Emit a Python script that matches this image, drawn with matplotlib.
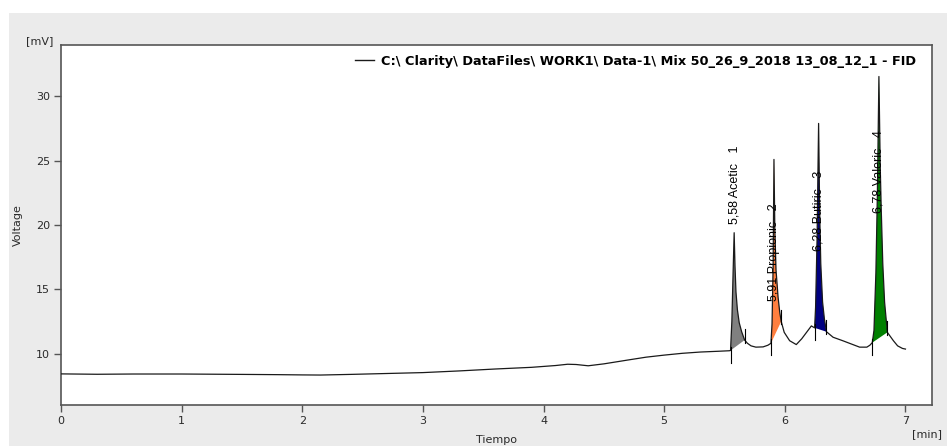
import numpy as np
import matplotlib
matplotlib.use("Agg")
import matplotlib.pyplot as plt
from matplotlib.patches import Rectangle
from matplotlib.lines import Line2D

# ---- chromatogram trace (time in min, signal in mV) ----
baseline_time = [0.0, 0.3, 0.6, 1.0, 1.5, 1.8, 2.0, 2.15, 2.4, 2.7, 3.0, 3.3, 3.6, 3.9,
                 4.1, 4.2, 4.27, 4.37, 4.5, 4.7, 4.85, 5.0, 5.15, 5.3, 5.45, 5.54]
baseline_mv = [8.42, 8.39, 8.41, 8.41, 8.38, 8.36, 8.34, 8.33, 8.38, 8.45, 8.52, 8.65, 8.8, 8.93,
               9.07, 9.17, 9.15, 9.05, 9.2, 9.5, 9.72, 9.88, 10.02, 10.12, 10.18, 10.22]

acetic_time = [5.55, 5.561, 5.571, 5.58, 5.587, 5.595, 5.607, 5.622, 5.642, 5.667,
               5.69, 5.72, 5.76, 5.82, 5.86]
acetic_mv = [10.24, 12.5, 16.2, 19.4, 16.8, 14.8, 13.4, 12.4, 11.7, 11.05,
             10.8, 10.6, 10.5, 10.52, 10.65]

propionic_time = [5.885, 5.894, 5.903, 5.91, 5.917, 5.927, 5.944, 5.958, 5.97,
                  5.995, 6.04, 6.095, 6.14, 6.18, 6.22]
propionic_mv = [10.8, 12.3, 16.8, 25.1, 19.8, 16.5, 14.4, 13.2, 12.5,
                11.65, 11.0, 10.7, 11.15, 11.65, 12.15]

butyric_time = [6.247, 6.255, 6.267, 6.28, 6.289, 6.298, 6.313, 6.328, 6.345,
                6.40, 6.48, 6.55, 6.62, 6.68, 6.705]
butyric_mv = [12.0, 13.6, 18.8, 27.9, 21.0, 17.0, 14.0, 12.7, 11.7,
              11.27, 11.0, 10.75, 10.5, 10.5, 10.65]

valeric_time = [6.725, 6.739, 6.755, 6.767, 6.78, 6.791, 6.799, 6.812, 6.827, 6.85,
                6.9, 6.935, 6.975, 7.0]
valeric_mv = [10.85, 11.8, 16.3, 22.3, 31.55, 24.5, 21.3, 17.0, 14.0, 11.65,
              11.0, 10.6, 10.4, 10.35]

# ---- integrated peaks ----
peak_names = ["Acetic", "Propionic", "Butiric", "Valeric"]
peak_rt = [5.58, 5.91, 6.28, 6.78]
peak_start = [5.55, 5.885, 6.247, 6.725]
peak_end = [5.667, 5.97, 6.345, 6.85]
peak_colors = ["#808080", "#ff7f3f", "#000080", "#008000"]
label_bottom = [20.1, 14.1, 18.0, 20.95]

legend_text = r"C:\ Clarity\ DataFiles\ WORK1\ Data-1\ Mix 50_26_9_2018 13_08_12_1 - FID"

x_ticks = [0, 1, 2, 3, 4, 5, 6, 7]
y_ticks = [10, 15, 20, 25, 30]

time = np.array(baseline_time + acetic_time + propionic_time + butyric_time + valeric_time)
signal = np.array(baseline_mv + acetic_mv + propionic_mv + butyric_mv + valeric_mv)

W, H = 947, 446
fig = plt.figure(figsize=(W / 100, H / 100), dpi=100, facecolor="white")
fig.patches.append(Rectangle((9 / W, 0), 1 - 9 / W, 1 - 13 / H, transform=fig.transFigure,
                             facecolor="#ebebeb", edgecolor="none", zorder=-10))

ax = fig.add_axes([61 / W, 1 - 405 / H, (932 - 61) / W, (405 - 45) / H])
ax.set_facecolor("white")
ax.set_xlim(0, 7.22)
ax.set_ylim(6, 34)

# filled peak areas between the trace and a straight baseline chord
for start, end, color in zip(peak_start, peak_end, peak_colors):
    m = (time >= start - 1e-9) & (time <= end + 1e-9)
    ax.fill(time[m], signal[m], facecolor=color, edgecolor="none", zorder=2)

trace, = ax.plot(time, signal, color="#1a1a1a", lw=0.9, zorder=3)

# peak start / end markers
for start, end in zip(peak_start, peak_end):
    ys = np.interp(start, time, signal)
    ye = np.interp(end, time, signal)
    ax.plot([start, start], [ys - 0.95, ys + 0.3], color="black", lw=0.8, zorder=4)
    ax.plot([end, end], [ye - 0.2, ye + 0.9], color="black", lw=0.8, zorder=4)

# peak labels
for rt, name, i, yb in zip(peak_rt, peak_names, range(1, 5), label_bottom):
    txt = f"{rt:.2f}".replace(".", ",") + f" {name}   {i}"
    ax.text(rt, yb, txt, rotation=90, ha="center", va="bottom", fontsize=9,
            family="Liberation Sans", color="black", zorder=5)

ax.set_xticks(x_ticks)
ax.set_yticks(y_ticks)
ax.tick_params(direction="out", length=5, width=1, colors="#555555", labelcolor="#2a2a2a",
               labelsize=8, pad=3)
for s in ax.spines.values():
    s.set_color("#555555")
    s.set_linewidth(1.2)

leg = ax.legend([Line2D([], [], color="#1a1a1a", lw=1)], [legend_text], loc="upper right",
                bbox_to_anchor=(916 / W, 1 - 55 / H), bbox_transform=fig.transFigure,
                frameon=False, borderpad=0, borderaxespad=0, handlelength=1.5,
                handletextpad=0.55, prop={"family": "DejaVu Sans", "weight": "bold", "size": 9.3})

fig.text(18 / W, 1 - 225 / H, "Voltage", rotation=90, ha="center", va="center",
         fontsize=8, color="#2a2a2a")
fig.text(496 / W, 1 - 445 / H, "Tiempo", ha="center", va="bottom", fontsize=8, color="#2a2a2a")
fig.text(40 / W, 1 - 41 / H, "[mV]", ha="center", va="center", fontsize=8, color="#2a2a2a")
fig.text(927 / W, 1 - 434 / H, "[min]", ha="center", va="center", fontsize=8, color="#2a2a2a")

fig.savefig("out.png", dpi=100)
